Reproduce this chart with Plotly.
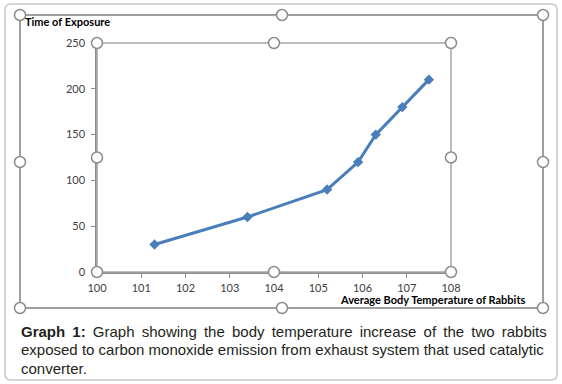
import plotly.graph_objects as go

# Data
temperature = [101.3, 103.4, 105.2, 105.9, 106.3, 106.9, 107.5]
exposure_time = [30, 60, 90, 120, 150, 180, 210]
x_ticks = [100, 101, 102, 103, 104, 105, 106, 107, 108]
y_ticks = [0, 50, 100, 150, 200, 250]
x_title = "Average Body Temperature of Rabbits"
y_title = "Time of Exposure"
caption_lines = [
    "<b>Graph 1:</b> Graph showing the body temperature increase of the two rabbits",
    "exposed to carbon monoxide emission from exhaust system that used catalytic",
    "converter.",
]

W, H = 562, 384
L, R, T, B = 97, 451, 43, 272
PW, PH = R - L, B - T

fig = go.Figure()
fig.add_trace(go.Scatter(
    x=temperature, y=exposure_time, mode="lines+markers",
    line=dict(color="#4A7EBB", width=3),
    marker=dict(symbol="diamond", size=8, color="#4A7EBB"),
    showlegend=False, cliponaxis=False,
))

axis_font = dict(family="Lato, Arial", size=11, color="#404040")
fig.update_xaxes(range=[100, 108], tickvals=x_ticks, showgrid=False, zeroline=False,
                 showline=True, linecolor="#8c8c8c", linewidth=1.5,
                 ticks="outside", ticklen=4, tickcolor="#8c8c8c", tickfont=axis_font,
                 ticklabelstandoff=1)
fig.update_yaxes(range=[0, 250], tickvals=y_ticks, showgrid=False, zeroline=False,
                 showline=True, linecolor="#8c8c8c", linewidth=1.5,
                 ticks="outside", ticklen=4, tickcolor="#8c8c8c", tickfont=axis_font,
                 ticklabelstandoff=4)

# pixel -> paper (paper is relative to the plot area)
def px(xp):
    return (xp - L) / PW

def py(yp):
    return (B - yp) / PH

shapes = []
# card border
shapes.append(dict(type="path", xref="paper", yref="paper", layer="below",
                   path=f"M {px(11)},{py(4)} L {px(551)},{py(4)} Q {px(557)},{py(4)} {px(557)},{py(10)} "
                        f"L {px(557)},{py(374)} Q {px(557)},{py(380)} {px(551)},{py(380)} "
                        f"L {px(11)},{py(380)} Q {px(5)},{py(380)} {px(5)},{py(374)} "
                        f"L {px(5)},{py(10)} Q {px(5)},{py(4)} {px(11)},{py(4)} Z",
                   line=dict(color="#c8c8c8", width=1.5)))
# outer chart frame
shapes.append(dict(type="rect", xref="paper", yref="paper",
                   x0=px(20), x1=px(543), y0=py(308), y1=py(15),
                   line=dict(color="#808080", width=1.5)))
# plot area frame (top/right)
shapes.append(dict(type="rect", xref="x domain", yref="y domain",
                   x0=0, x1=1, y0=0, y1=1, line=dict(color="#a6a6a6", width=1.5)))

def handle(cx, cy, r=5.5):
    return dict(type="circle", xref="paper", yref="paper",
                x0=px(cx - r), x1=px(cx + r), y0=py(cy + r), y1=py(cy - r),
                fillcolor="white", line=dict(color="#8c8c8c", width=1.5))

for cx in (20, 282, 543):
    for cy in (15, 162, 308):
        if cx == 282 and cy == 162:
            continue
        shapes.append(handle(cx, cy))
for cx in (L, (L + R) / 2, R):
    for cy in (T, (T + B) / 2, B):
        if cx == (L + R) / 2 and cy == (T + B) / 2:
            continue
        shapes.append(handle(cx, cy))

annotations = [
    dict(text=f"<b>{y_title}</b>", xref="paper", yref="paper", x=px(23), y=py(21),
         xanchor="left", yanchor="middle", showarrow=False,
         font=dict(family="Lato, Arial", size=11, color="#000000")),
    dict(text=f"<b>{x_title}</b>", xref="paper", yref="paper", x=px(527), y=py(299.5),
         xanchor="right", yanchor="middle", showarrow=False,
         font=dict(family="Lato, Arial", size=11, color="#000000")),
]
# justified caption: widen word gaps on the full lines
for i, line in enumerate(caption_lines):
    text = line
    if i == 0:
        text = line.replace(" ", " \u2009")
    annotations.append(dict(text=text, xref="paper", yref="paper", x=px(19), y=py(331 + 18.5 * i),
                            xanchor="left", yanchor="middle", showarrow=False,
                            font=dict(family="Liberation Sans, Arial", size=15, color="#231f20")))

fig.update_layout(
    width=W, height=H,
    margin=dict(l=L, r=W - R, t=T, b=H - B),
    paper_bgcolor="white", plot_bgcolor="white",
    shapes=shapes, annotations=annotations,
)

fig.write_html("out.html", config={"displayModeBar": False},
               post_script="document.body.style.margin='0';")
